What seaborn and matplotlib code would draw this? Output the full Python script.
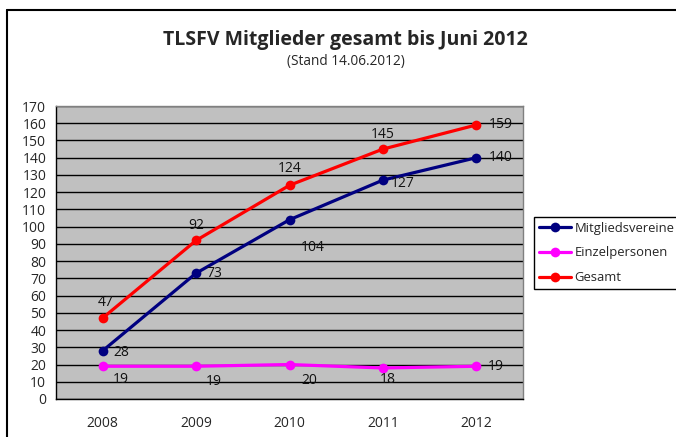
"""
TLSFV Mitglieder gesamt bis Juni 2012 - Liniendiagramm im Excel-Stil.
"""

import matplotlib
matplotlib.use("Agg")
import matplotlib.pyplot as plt
from matplotlib.lines import Line2D
import pandas as pd
import seaborn as sns

# daten
jahre = ["2008", "2009", "2010", "2011", "2012"]
mitgliedsvereine = [28, 73, 104, 127, 140]
einzelpersonen = [19, 19, 20, 18, 19]
gesamt = [47, 92, 124, 145, 159]
reihen = ["Mitgliedsvereine", "Einzelpersonen", "Gesamt"]
farben = {"Mitgliedsvereine": "#000080", "Einzelpersonen": "#FF00FF", "Gesamt": "#FF0000"}

# lage der datenbeschriftungen (offset in pixeln)
label_offsets = {
    "Mitgliedsvereine": [(19, -2), (18, 0), (23, -28), (20, -3), (24, 0)],
    "Einzelpersonen": [(18, -13), (18, -15), (20, -16), (5, -12), (19, 0)],
    "Gesamt": [(3, 15), (0, 15), (0, 17), (0, 15), (24, 0)],
}

df = pd.DataFrame({
    "Jahr": jahre * 3,
    "Anzahl": mitgliedsvereine + einzelpersonen + gesamt,
    "Reihe": [r for r in reihen for _ in jahre],
})

sns.set_style("white")
plt.rcParams["font.family"] = ["Open Sans", "DejaVu Sans"]

fig = plt.figure(figsize=(6.76, 4.37), dpi=100)
ax = fig.add_axes([56 / 676, 1 - 399 / 437, 467 / 676, 293 / 437])
ax.set_facecolor("#C0C0C0")

sns.lineplot(
    data=df, x="Jahr", y="Anzahl", hue="Reihe", hue_order=reihen,
    palette=farben, marker="o", markersize=7, markeredgewidth=0,
    linewidth=2.3, legend=False, ax=ax, zorder=3,
)

# datenbeschriftungen
werte = {"Mitgliedsvereine": mitgliedsvereine, "Einzelpersonen": einzelpersonen, "Gesamt": gesamt}
for reihe in reihen:
    for i, v in enumerate(werte[reihe]):
        ax.annotate(str(v), (i, v), xytext=label_offsets[reihe][i],
                    textcoords="offset pixels", ha="center", va="center",
                    fontsize=10, color="#111111", zorder=4)

# achsen
ax.set_xlim(-0.5, 4.5)
ax.set_ylim(0, 170)
ax.set_yticks(range(0, 171, 10))
ax.set_xticks(range(len(jahre)))
ax.set_xticklabels(jahre)
ax.set_xticks([x - 0.5 for x in range(len(jahre) + 1)], minor=True)
ax.tick_params(axis="x", which="major", length=0, pad=12, labelsize=10)
ax.tick_params(axis="x", which="minor", length=5, width=1, color="black", direction="out")
ax.tick_params(axis="y", length=5, width=1, color="black", direction="out", labelsize=10, pad=2)
ax.yaxis.grid(True, color="black", linewidth=1)
ax.set_axisbelow(True)
ax.set_xlabel("")
ax.set_ylabel("")
for s in ["left", "bottom"]:
    ax.spines[s].set_color("black")
    ax.spines[s].set_linewidth(1)
for s in ["top", "right"]:
    ax.spines[s].set_color("#808080")
    ax.spines[s].set_linewidth(1)

# titel
fig.text(345 / 676, 1 - 40 / 437, "TLSFV Mitglieder gesamt bis Juni 2012",
         ha="center", va="center", fontsize=14, fontweight="bold")
fig.text(346 / 676, 1 - 61 / 437, "(Stand 14.06.2012)",
         ha="center", va="center", fontsize=9.8)

# legende
handles = [Line2D([], [], color=farben[r], marker="o", markersize=7,
                  markeredgewidth=0, linewidth=2.3) for r in reihen]
leg = ax.legend(handles, reihen, loc="upper left",
                bbox_to_anchor=(534 / 676, 1 - 217 / 437),
                bbox_transform=fig.transFigure, frameon=True, fancybox=False,
                framealpha=1, edgecolor="black", fontsize=9.4,
                handlelength=2.5, handletextpad=0.25, labelspacing=0.9,
                borderpad=0.35, borderaxespad=0)
leg.get_frame().set_linewidth(1)

# rahmen um das diagramm
fig.add_artist(Line2D([7 / 676, 7 / 676], [0, 1 - 10 / 437], transform=fig.transFigure,
                      color="black", linewidth=1.5))
fig.add_artist(Line2D([7 / 676, 1], [1 - 10 / 437, 1 - 10 / 437], transform=fig.transFigure,
                      color="black", linewidth=1.5))

fig.savefig("out.png", dpi=100)
